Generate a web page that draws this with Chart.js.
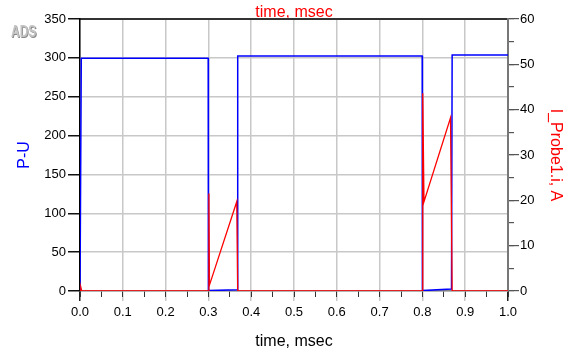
<!DOCTYPE html>
<html>
<head>
<meta charset="utf-8">
<script src="https://cdn.jsdelivr.net/npm/chart.js@4.4.1/dist/chart.umd.min.js"></script>
<style>
html,body{margin:0;padding:0;background:#fff;}
#wrap{width:578px;height:353px;position:relative;}
</style>
</head>
<body>
<div id="wrap"><canvas id="c" width="578" height="353"></canvas></div>
<script>
// ---- data ----
const puTime   = [0, 0.003, 0.2995, 0.3, 0.367, 0.3685, 0.7995, 0.8, 0.868, 0.8695, 1.0];
const puValue  = [0, 299.5, 299.5, 0.5, 1.5, 302.3, 302.3, 0.5, 2.5, 303.8, 303.8];
const iTime    = [0, 0.002, 0.004, 0.3, 0.3012, 0.3025, 0.3662, 0.3685, 0.8, 0.8008, 0.8037, 0.8657, 0.8695, 1.0];
const iValue   = [0, 0.8, 0, 0, 21.5, 1.3, 19.7, 0, 0, 43.6, 19.7, 38.2, 0, 0];
const xTicks   = {min: 0, max: 1, major: 0.1, minor: 0.05};
const yLeft    = {min: 0, max: 350, step: 50};
const yRight   = {min: 0, max: 60, major: 10, minor: 5};
const xTitle   = 'time, msec';
const leftTitle  = 'P-U';
const rightTitle = 'I_Probe1.i, A';

const FONT = '"Liberation Sans", Arial, sans-serif';
const GRID = '#c8c8c8';

const pts = (t, v) => t.map((x, i) => ({x: x, y: v[i]}));

const fixSize = (w, h) => function (scale) {
  if (w !== null) scale.width = w;
  if (h !== null) scale.height = h;
};

const adsLogo = {
  id: 'adsLogo',
  afterDraw(chart) {
    const ctx = chart.ctx;
    ctx.save();
    ctx.translate(11, 37);
    ctx.scale(0.8, 1.05);
    ctx.font = 'bold 15px ' + FONT;
    ctx.textBaseline = 'alphabetic';
    ctx.fillStyle = '#8a8a8a';
    ctx.fillText('ADS', 1, 1);
    ctx.fillStyle = '#c4c4c4';
    ctx.fillText('ADS', 0, 0);
    ctx.restore();
  }
};

new Chart(document.getElementById('c'), {
  type: 'line',
  data: {
    datasets: [
      {
        label: rightTitle,
        data: pts(iTime, iValue),
        xAxisID: 'x',
        yAxisID: 'y2',
        borderColor: '#ff0000',
        borderWidth: 1.3,
        pointRadius: 0,
        tension: 0,
        order: 0
      },
      {
        label: leftTitle,
        data: pts(puTime, puValue),
        xAxisID: 'x',
        yAxisID: 'y',
        borderColor: '#0000ff',
        borderWidth: 1.5,
        pointRadius: 0,
        tension: 0,
        order: 1
      }
    ]
  },
  options: {
    responsive: false,
    animation: false,
    layout: {padding: 0},
    plugins: {legend: {display: false}, tooltip: {enabled: false}, title: {display: false}},
    scales: {
      x: {
        type: 'linear', position: 'bottom', weight: 1,
        min: xTicks.min, max: xTicks.max,
        afterFit: fixSize(null, 62),
        ticks: {
          stepSize: xTicks.major, autoSkip: false, maxRotation: 0,
          padding: 4, color: '#000', font: {family: FONT, size: 13},
          callback: v => Number(v).toFixed(1)
        },
        grid: {
          color: GRID, lineWidth: 1.5, tickLength: 10,
          tickColor: ctx => (ctx.tick && (ctx.tick.value === 0 || ctx.tick.value === 1)) ? '#222' : GRID
        },
        border: {color: '#888', width: 1.5},
        title: {display: true, text: xTitle, color: '#000', font: {family: FONT, size: 16}, padding: {top: 0, bottom: 2}}
      },
      xm: {
        type: 'linear', position: 'bottom', weight: 0,
        min: xTicks.min, max: xTicks.max,
        afterFit: fixSize(null, 0),
        ticks: {display: false, stepSize: xTicks.minor, autoSkip: false},
        grid: {drawOnChartArea: false, tickLength: 6, tickColor: '#333', lineWidth: 1},
        border: {display: false}
      },
      x2: {
        type: 'linear', position: 'top',
        min: xTicks.min, max: xTicks.max,
        afterFit: fixSize(null, 19),
        ticks: {display: false},
        grid: {drawOnChartArea: false, drawTicks: false},
        border: {color: '#333', width: 2},
        title: {display: true, text: xTitle, color: '#ff0000', font: {family: FONT, size: 16}, padding: {top: 3, bottom: 0}}
      },
      y: {
        type: 'linear', position: 'left',
        min: yLeft.min, max: yLeft.max,
        afterFit: fixSize(80, null),
        ticks: {stepSize: yLeft.step, padding: 2, color: '#000', font: {family: FONT, size: 13}},
        grid: {color: GRID, lineWidth: 1.5, tickLength: 12, tickColor: '#111'},
        border: {color: '#000', width: 1.5},
        title: {display: true, text: leftTitle, color: '#0000ff', font: {family: FONT, size: 16}, padding: {top: 15, bottom: 0}}
      },
      y2m: {
        type: 'linear', position: 'right', weight: 0,
        min: yRight.min, max: yRight.max,
        afterFit: fixSize(0, null),
        ticks: {display: false, stepSize: yRight.minor},
        grid: {drawOnChartArea: false, tickLength: 6, tickColor: '#555', lineWidth: 1.2},
        border: {display: false}
      },
      y2: {
        type: 'linear', position: 'right', weight: 1,
        min: yRight.min, max: yRight.max,
        afterFit: fixSize(70, null),
        ticks: {stepSize: yRight.major, padding: 1, color: '#000', font: {family: FONT, size: 13}},
        grid: {drawOnChartArea: false, tickLength: 11, tickColor: '#555', lineWidth: 1.2},
        border: {color: '#777', width: 2},
        title: {display: true, text: rightTitle, color: '#ff0000', font: {family: FONT, size: 16}, padding: {top: 13, bottom: 0}}
      }
    }
  },
  plugins: [adsLogo]
});
</script>
</body>
</html>
